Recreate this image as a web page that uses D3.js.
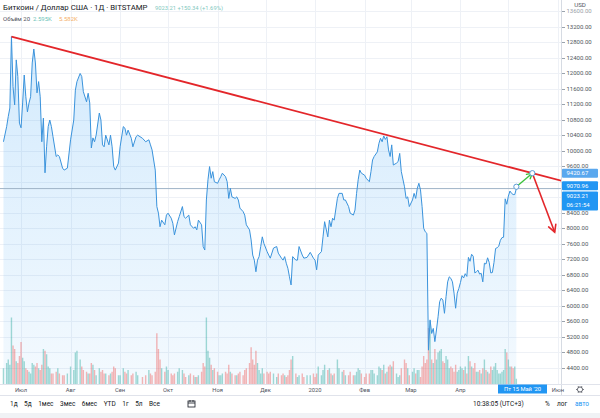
<!DOCTYPE html>
<html><head><meta charset="utf-8">
<script src="https://cdn.jsdelivr.net/npm/d3@7"></script>
<style>
body{margin:0;background:#fff;}
svg{display:block;font-family:Roboto,"Noto Sans",sans-serif;}
</style>
</head><body>
<svg id="c" width="600" height="418"></svg>
<script>
// ---------- DATA ----------
const dates = [
 // Jun 2019
 "2019-06-20","2019-06-22","2019-06-23","2019-06-24","2019-06-25","2019-06-26","2019-06-27","2019-06-28","2019-06-29","2019-06-30",
 // Jul
 "2019-07-01","2019-07-02","2019-07-03","2019-07-04","2019-07-05","2019-07-06","2019-07-07","2019-07-08","2019-07-09","2019-07-10",
 "2019-07-11","2019-07-12","2019-07-13","2019-07-14","2019-07-15","2019-07-16","2019-07-17","2019-07-18","2019-07-19","2019-07-20",
 "2019-07-21","2019-07-23","2019-07-24","2019-07-25","2019-07-27","2019-07-28","2019-07-30",
 // Aug
 "2019-08-01","2019-08-03","2019-08-04","2019-08-05","2019-08-07","2019-08-08","2019-08-09","2019-08-11","2019-08-12","2019-08-13",
 "2019-08-14","2019-08-15","2019-08-16","2019-08-17","2019-08-19","2019-08-20","2019-08-21","2019-08-22","2019-08-23","2019-08-25",
 "2019-08-26","2019-08-27","2019-08-28","2019-08-29","2019-08-31",
 // Sep
 "2019-09-01","2019-09-03","2019-09-04","2019-09-05","2019-09-06","2019-09-08","2019-09-09","2019-09-11","2019-09-12","2019-09-15",
 "2019-09-17","2019-09-19","2019-09-20","2019-09-21","2019-09-23","2019-09-24","2019-09-25","2019-09-26","2019-09-27","2019-09-29",
 "2019-09-30",
 // Oct
 "2019-10-01","2019-10-03","2019-10-04","2019-10-05","2019-10-07","2019-10-08","2019-10-10","2019-10-11","2019-10-12","2019-10-14",
 "2019-10-15","2019-10-17","2019-10-18","2019-10-19","2019-10-20","2019-10-22","2019-10-23","2019-10-24","2019-10-25","2019-10-26",
 "2019-10-27","2019-10-28","2019-10-29","2019-10-30",
 // Nov
 "2019-11-01","2019-11-02","2019-11-03","2019-11-04","2019-11-06","2019-11-07","2019-11-08","2019-11-09","2019-11-10","2019-11-12",
 "2019-11-13","2019-11-14","2019-11-15","2019-11-17","2019-11-18","2019-11-19","2019-11-21","2019-11-22","2019-11-23","2019-11-24",
 "2019-11-25","2019-11-26","2019-11-27","2019-11-28","2019-11-29","2019-11-30",
 // Dec
 "2019-12-02","2019-12-03","2019-12-04","2019-12-06","2019-12-08","2019-12-09","2019-12-11","2019-12-12","2019-12-13","2019-12-14",
 "2019-12-15","2019-12-16","2019-12-17","2019-12-18","2019-12-20","2019-12-21","2019-12-22","2019-12-24","2019-12-25","2019-12-27",
 "2019-12-29","2019-12-31",
 // Jan 2020
 "2020-01-01","2020-01-02","2020-01-03","2020-01-05","2020-01-06","2020-01-07","2020-01-09","2020-01-10","2020-01-11","2020-01-12",
 "2020-01-13","2020-01-15","2020-01-16","2020-01-18","2020-01-19","2020-01-20","2020-01-22","2020-01-23","2020-01-25","2020-01-26",
 "2020-01-27","2020-01-28","2020-01-29","2020-01-30",
 // Feb
 "2020-02-01","2020-02-02","2020-02-04","2020-02-05","2020-02-06","2020-02-07","2020-02-09","2020-02-10","2020-02-11","2020-02-12",
 "2020-02-13","2020-02-14","2020-02-15","2020-02-16","2020-02-17","2020-02-18","2020-02-19","2020-02-21","2020-02-22","2020-02-23",
 "2020-02-24","2020-02-26","2020-02-27","2020-02-28","2020-02-29",
 // Mar
 "2020-03-02","2020-03-03","2020-03-04","2020-03-05","2020-03-06","2020-03-07","2020-03-08","2020-03-09","2020-03-10","2020-03-11",
 "2020-03-12","2020-03-13","2020-03-14","2020-03-15","2020-03-16","2020-03-17","2020-03-18","2020-03-19","2020-03-20","2020-03-21",
 "2020-03-22","2020-03-23","2020-03-24","2020-03-25","2020-03-26","2020-03-27","2020-03-28","2020-03-29","2020-03-30","2020-03-31",
 // Apr
 "2020-04-01","2020-04-02","2020-04-03","2020-04-04","2020-04-05","2020-04-06","2020-04-07","2020-04-08","2020-04-09","2020-04-10",
 "2020-04-11","2020-04-12","2020-04-13","2020-04-14","2020-04-15","2020-04-16","2020-04-17","2020-04-18","2020-04-19","2020-04-20",
 "2020-04-21","2020-04-22","2020-04-23","2020-04-24","2020-04-25","2020-04-26","2020-04-27","2020-04-28","2020-04-29","2020-04-30",
 // May
 "2020-05-01","2020-05-02","2020-05-03","2020-05-04","2020-05-05","2020-05-06"
];
const closes = [
 // Jun
 10230,10620,10880,11100,12940,11650,11180,12340,11910,10710,
 // Jul
 10590,11230,11950,11390,11000,11230,11390,12260,12620,12260,
 11490,11780,11390,10230,10840,9430,10100,10620,10790,10620,
 10360,9850,9890,9850,9550,9500,9550,
 // Aug
 10280,10790,11560,11780,11990,11910,11520,11260,11480,11230,
 10070,10330,10230,10400,10970,10790,10150,10100,10400,10150,
 10400,10100,9590,9500,9680,
 // Sep
 10100,10620,10580,10400,10530,10320,10100,10360,10400,10320,
 10230,10280,10150,10020,9500,8560,8390,8040,8210,8090,
 8340,
 // Oct
 8390,8260,8130,7830,8170,8300,8560,8300,8260,8340,
 8090,8000,8040,7960,8210,8090,7530,7440,8730,9250,
 9590,9290,9460,9200,
 // Nov
 9160,9250,9330,9420,9330,9200,8770,9030,8810,8770,
 8810,8730,8520,8430,8340,8090,7960,7700,7310,7180,
 6880,7180,7270,7530,7780,7610,
 // Dec
 7400,7310,7230,7490,7530,7360,7230,7180,7270,7100,
 6970,6750,6540,7270,7180,7180,7530,7310,7230,7250,
 7380,7230,
 // Jan
 7180,6930,7310,7400,7780,8170,7780,8210,8040,8260,
 8210,8770,8900,8900,8730,8730,8560,8390,8340,8470,
 8900,9250,9500,9420,
 // Feb
 9370,9290,9200,9460,9760,9850,9970,10190,10320,10230,
 10380,10290,10360,10020,9850,10150,9630,9680,9720,9930,
 9460,9070,8770,8810,8560,
 // Mar
 8730,8900,8770,9030,9160,8990,8560,8000,7910,7870,
 4860,5640,5290,5420,5080,5380,5720,6110,6200,6150,
 5810,6240,6620,6750,6710,6620,6330,5940,6330,6450,
 // Apr
 6600,6780,6720,6830,6760,7250,7150,7330,7280,6850,
 6880,6920,6820,6840,6620,7100,7080,7240,7120,6850,
 6860,7120,7480,7500,7540,7690,7760,7770,8760,8620,
 // May
 8830,8960,8900,8870,8870,9023.21
];
// volume, thousands of BTC
const volumes = [
 9,12,14,11,38,22,20,13,12,16,
 24,15,13,9,8,7,6,12,11,10,
 12,9,8,11,20,19,17,10,9,6,
 6,7,9,6,5,5,6,
 10,8,18,19,14,10,8,7,6,6,
 12,11,8,5,9,7,8,6,6,5,
 6,7,10,9,5,
 5,9,7,6,8,5,6,7,5,4,
 5,8,6,5,7,29,20,14,9,7,
 10,
 8,6,5,6,7,9,8,6,4,5,
 6,5,4,4,5,7,12,10,38,19,
 15,11,8,9,
 7,5,5,6,7,6,11,7,6,5,
 5,6,7,5,8,9,12,21,14,11,
 19,12,8,6,9,6,
 7,6,7,6,4,6,5,6,5,4,
 5,8,14,16,6,4,5,6,4,5,
 5,6,
 4,6,10,5,8,11,8,9,6,5,
 6,14,9,7,8,5,5,7,5,5,
 7,9,8,6,
 4,6,6,8,8,6,5,10,9,8,
 11,6,7,10,11,10,13,6,4,5,
 9,14,12,9,5,
 7,9,6,8,8,4,10,16,12,14,
 32,36,14,12,20,14,18,19,20,13,
 12,16,14,9,10,9,7,11,7,8,
 10,9,8,10,6,16,13,10,9,12,
 7,7,8,6,9,14,8,7,6,10,
 8,10,12,8,6,6,7,8,20,18,
 14,10,10,9,10,3
];
const priceTicks = d3.range(4400, 13601, 400);
const monthNames = ["Янв","Фев","Мар","Апр","Май","Июн","Июл","Авг","Сен","Окт","Ноя","Дек"];
const rangeButtons = ["1д","5д","1мес","3мес","6мес","YTD","1г","5л","Все"];
const trendStart = {date:"2019-06-25", value:12940};
const trendEnd   = {date:"2020-05-16", value:9420.67};
const greenStart = {date:"2020-05-06", value:9070.96};
const redTarget  = {date:"2020-05-30", value:7900};
const lastPrice = 9023.21;
const markerLabel = "9070.96";
const trendLabel = "9420.67";
const countdown = "06:21:54";
const crosshairDate = "Пт 15 Май '20";

// ---------- LAYOUT ----------
const W = 600, H = 418;
const plotR = 561, plotB = 384;
const parse = d3.utcParse("%Y-%m-%d");
const data = dates.map((d,i)=>({date:parse(d), close:closes[i], vol:volumes[i]||0}));

const x = d3.scaleUtc().domain([parse("2019-06-01"), parse("2020-06-01")]).range([-26.9, 557.9]);
const y = d3.scaleLinear().domain([4400, 13200]).range([368, 26.5]);
const yv = d3.scaleLinear().domain([0, 40]).range([plotB, plotB - 70]);

const svg = d3.select("#c");
svg.append("rect").attr("width",W).attr("height",H).attr("fill","#fff");

const defs = svg.append("defs");
defs.append("clipPath").attr("id","clip").append("rect").attr("x",0).attr("y",0).attr("width",plotR).attr("height",plotB);
const grad = defs.append("linearGradient").attr("id","ag").attr("x1",0).attr("x2",0).attr("y1",0).attr("y2",1);
grad.append("stop").attr("offset","0%").attr("stop-color","rgba(33,150,243,0.20)");
grad.append("stop").attr("offset","100%").attr("stop-color","rgba(33,150,243,0.05)");

const plot = svg.append("g").attr("clip-path","url(#clip)");

// grid
const months = x.ticks(d3.utcMonth.every(1));
plot.append("g").selectAll("line").data(months).join("line")
  .attr("x1",d=>Math.round(x(d))+0.5).attr("x2",d=>Math.round(x(d))+0.5)
  .attr("y1",0).attr("y2",plotB).attr("stroke","#eef1f6");
plot.append("g").selectAll("line").data(priceTicks).join("line")
  .attr("x1",0).attr("x2",plotR)
  .attr("y1",d=>Math.round(y(d))+0.5).attr("y2",d=>Math.round(y(d))+0.5).attr("stroke","#eef1f6");

// area
plot.append("path").datum(data)
  .attr("d", d3.area().x(d=>x(d.date)).y0(plotB).y1(d=>y(d.close)))
  .attr("fill","url(#ag)");

// volume bars
plot.append("g").selectAll("rect").data(data).join("rect")
  .attr("x",d=>x(d.date)-0.7).attr("width",1.4)
  .attr("y",d=>yv(d.vol)).attr("height",d=>plotB-yv(d.vol))
  .attr("fill",(d,i)=> (i===0 || d.close>=data[i-1].close) ? "rgba(38,166,154,0.42)" : "rgba(239,83,80,0.42)");

// last price line
plot.append("line").attr("x1",0).attr("x2",plotR)
  .attr("y1",y(lastPrice)).attr("y2",y(lastPrice))
  .attr("stroke","#9fb4c7").attr("stroke-width",1);

// price line
plot.append("path").datum(data)
  .attr("d", d3.line().x(d=>x(d.date)).y(d=>y(d.close)))
  .attr("fill","none").attr("stroke","#3a93dc").attr("stroke-width",1).attr("stroke-linejoin","round");

// trend line
const P = o=>[x(parse(o.date)), y(o.value)];
const [tx1,ty1] = P(trendStart), [tx2,ty2] = P(trendEnd);
const ext = plotR + 5;
const tyExt = ty1 + (ty2-ty1)*(ext-tx1)/(tx2-tx1);
plot.append("line").attr("x1",tx1).attr("y1",ty1).attr("x2",ext).attr("y2",tyExt)
  .attr("stroke","#e3262a").attr("stroke-width",1.8);

function arrow(g, a, b, color, len, w){
  g.append("line").attr("x1",a[0]).attr("y1",a[1]).attr("x2",b[0]).attr("y2",b[1])
    .attr("stroke",color).attr("stroke-width",w);
  const ang = Math.atan2(b[1]-a[1], b[0]-a[0]);
  const p = s=>[b[0]-len*Math.cos(ang+s), b[1]-len*Math.sin(ang+s)];
  const l = p(0.5), r = p(-0.5);
  g.append("path").attr("d",`M${l[0]},${l[1]}L${b[0]},${b[1]}L${r[0]},${r[1]}`)
    .attr("fill","none").attr("stroke",color).attr("stroke-width",w).attr("stroke-linecap","round");
}
arrow(plot, P(trendEnd), P(redTarget), "#e3262a", 8, 1.6);
arrow(plot, P(greenStart), P(trendEnd), "#3cc13c", 6, 1.4);
[greenStart, trendEnd].forEach(o=>{
  const [cx,cy] = P(o);
  plot.append("circle").attr("cx",cx).attr("cy",cy).attr("r",2.6)
    .attr("fill","#fff").attr("stroke","#5a9bd6").attr("stroke-width",1);
});

// ---------- PRICE AXIS ----------
svg.append("rect").attr("x",plotR).attr("y",0).attr("width",W-plotR).attr("height",plotB).attr("fill","#fff");
svg.append("line").attr("x1",plotR+0.5).attr("x2",plotR+0.5).attr("y1",0).attr("y2",396).attr("stroke","#d6dbe3");

// boxes on the axis (computed first so covered tick labels are skipped)
const boxes = [
  {yc:y(trendEnd.value), h:9, fill:"#5aa8ee", lines:[trendLabel]},
  {yc:y(greenStart.value)-1, h:9, fill:"#2196f3", lines:[markerLabel]},
  {yc:y(lastPrice)+12.5, h:19, fill:"#2196f3", lines:[d3.format(".2f")(lastPrice), countdown]}
];
const covered = v => boxes.some(b => Math.abs(y(v) - b.yc) < b.h/2 + 2);

const ax = svg.append("g");
priceTicks.forEach(v=>{
  const yy = y(v);
  ax.append("line").attr("x1",plotR+1).attr("x2",plotR+4).attr("y1",Math.round(yy)+0.5).attr("y2",Math.round(yy)+0.5).attr("stroke","#9aa3ad");
  if (covered(v)) return;
  ax.append("text").attr("x",plotR+5.5).attr("y",yy+2).attr("font-size",6).attr("fill", v>13200 ? "#9aa0a8" : "#4f5660")
    .text(d3.format(".2f")(v));
});
svg.append("rect").attr("x",plotR+1).attr("y",0).attr("width",38).attr("height",7.5).attr("fill","#fff");
svg.append("text").attr("x",580).attr("y",6.5).attr("text-anchor","middle").attr("font-size",6.2).attr("fill","#4f5660").text("USD");

boxes.forEach(b=>{
  svg.append("rect").attr("x",plotR+1).attr("y",b.yc-b.h/2).attr("width",W-plotR-3).attr("height",b.h).attr("fill",b.fill).attr("rx",1);
  b.lines.forEach((t,i)=>{
    svg.append("text").attr("x",plotR+5.5).attr("y",b.yc - b.h/2 + 6.6 + i*9).attr("font-size",6).attr("fill","#fff").text(t);
  });
});

// ---------- TIME AXIS ----------
svg.append("line").attr("x1",0).attr("x2",W).attr("y1",plotB+0.5).attr("y2",plotB+0.5).attr("stroke","#e0e3eb");
const boxX0 = 498, boxW = 49;
const tl = svg.append("g");
months.filter(d=>x(d)>5 && x(d)<W && (x(d)<boxX0-8 || x(d)>boxX0+boxW+8)).forEach(d=>{
  const m = d.getUTCMonth();
  tl.append("text").attr("x",x(d)).attr("y",391.5).attr("text-anchor","middle")
    .attr("font-size",5.8).attr("fill","#50535e")
    .text(m===0 ? String(d.getUTCFullYear()) : monthNames[m]);
});
svg.append("rect").attr("x",boxX0).attr("y",384.5).attr("width",boxW).attr("height",9).attr("fill","#2196f3");
svg.append("text").attr("x",boxX0+boxW/2).attr("y",391.3).attr("text-anchor","middle").attr("font-size",5.8).attr("fill","#fff").text(crosshairDate);
// gear icon
const gear = svg.append("g").attr("transform","translate(580,389.5)");
gear.append("circle").attr("r",2.6).attr("fill","none").attr("stroke","#50535e").attr("stroke-width",0.9);
d3.range(6).forEach(i=>{
  const a = i*Math.PI/3;
  gear.append("line").attr("x1",2.6*Math.cos(a)).attr("y1",2.6*Math.sin(a)).attr("x2",3.8*Math.cos(a)).attr("y2",3.8*Math.sin(a))
    .attr("stroke","#50535e").attr("stroke-width",0.9);
});

// ---------- TOOLBAR ----------
svg.append("line").attr("x1",0).attr("x2",W).attr("y1",395.5).attr("y2",395.5).attr("stroke","#e0e3eb");
svg.append("rect").attr("x",0).attr("y",413).attr("width",W).attr("height",5).attr("fill","#f0f2f5");
const tb = svg.append("g");
let cx = 10;
rangeButtons.forEach(t=>{
  const tt = tb.append("text").attr("x",cx).attr("y",405.5).attr("font-size",6.5).attr("fill","#131722").text(t);
  cx += tt.node().getComputedTextLength() + 6.5;
});
const cal = tb.append("g").attr("transform","translate(188,400)");
cal.append("rect").attr("x",0).attr("y",1).attr("width",7).attr("height",6).attr("fill","none").attr("stroke","#131722").attr("stroke-width",0.8);
cal.append("line").attr("x1",0).attr("x2",7).attr("y1",3).attr("y2",3).attr("stroke","#131722").attr("stroke-width",0.8);
cal.append("line").attr("x1",2).attr("x2",2).attr("y1",0).attr("y2",2).attr("stroke","#131722").attr("stroke-width",0.8);
cal.append("line").attr("x1",5).attr("x2",5).attr("y1",0).attr("y2",2).attr("stroke","#131722").attr("stroke-width",0.8);
tb.append("text").attr("x",473).attr("y",405.5).attr("font-size",6.5).attr("fill","#131722").text("10:38:05 (UTC+3)");
tb.append("text").attr("x",545).attr("y",405.5).attr("font-size",6.5).attr("fill","#131722").text("%");
tb.append("text").attr("x",557).attr("y",405.5).attr("font-size",6.5).attr("fill","#131722").text("лог");
tb.append("text").attr("x",575).attr("y",405.5).attr("font-size",6.5).attr("fill","#2196f3").text("авто");

// ---------- HEADER ----------
const hd = svg.append("g");
hd.append("text").attr("x",3).attr("y",10).attr("font-size",7.8).attr("fill","#131722")
  .text("Биткоин / Доллар США · 1Д · BITSTAMP");
hd.append("text").attr("x",155).attr("y",10).attr("font-size",5.8).attr("fill","#7fc9c0")
  .text("9023.21 +150.34 (+1.69%)");
hd.append("text").attr("x",3).attr("y",21).attr("font-size",6).attr("fill","#50535e").text("Объём 20");
hd.append("text").attr("x",33).attr("y",21).attr("font-size",6).attr("fill","#6cc3b8").text("2.595K");
hd.append("text").attr("x",59).attr("y",21).attr("font-size",6).attr("fill","#f5b06a").text("5.582K");
</script>
</body></html>
